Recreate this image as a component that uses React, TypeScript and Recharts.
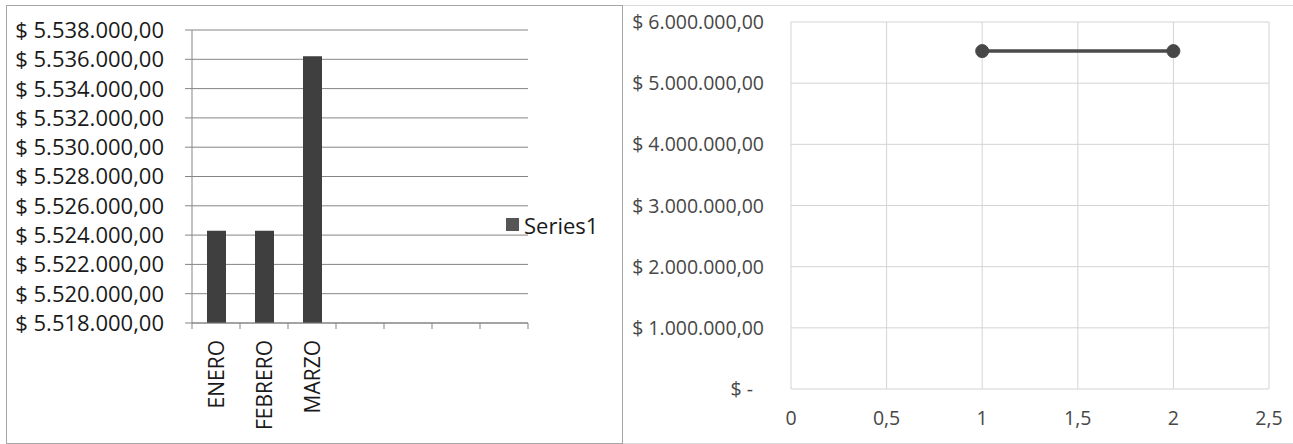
import React from 'react';
import { BarChart, Bar, XAxis, YAxis, CartesianGrid, Legend, LineChart, Line } from 'recharts';

// ---- data ----
const months = ['ENERO', 'FEBRERO', 'MARZO', '', '', '', ''];
const series1 = [5524300, 5524300, 5536200, null, null, null, null];
const barYTicks = [5518000, 5520000, 5522000, 5524000, 5526000, 5528000, 5530000, 5532000, 5534000, 5536000, 5538000];
const scatterX = [1, 2];
const scatterY = [5524300, 5524300];
const lineYTicks = [0, 1000000, 2000000, 3000000, 4000000, 5000000, 6000000];
const lineXTicks = [0, 0.5, 1, 1.5, 2, 2.5];

const barData = months.map((m, i) => ({ cat: i, Series1: series1[i] }));
const lineData = scatterX.map((x, i) => ({ x, y: scatterY[i] }));

const FONT = '"Open Sans", sans-serif';
const AXIS_GRAY = '#858585';
const BAR_COLOR = '#3f3f3f';

function fmtMoney(v: number) {
  const s = Math.round(v).toString().replace(/\B(?=(\d{3})+(?!\d))/g, '.');
  return `$ ${s},00`;
}
function fmtDec(v: number) {
  return String(v).replace('.', ',');
}

const MonthTick = (props: any) => {
  const { x, y, payload, index } = props;
  const half = payload && typeof payload.offset === 'number' ? payload.offset : 24;
  const label = months[payload.value] ?? '';
  const ty = y + 11;
  return (
    <g>
      <line x1={x - half} x2={x - half} y1={y - 6} y2={y} stroke={AXIS_GRAY} strokeWidth={1} />
      {index === months.length - 1 && (
        <line x1={x + half} x2={x + half} y1={y - 6} y2={y} stroke={AXIS_GRAY} strokeWidth={1} />
      )}
      {label && (
        <text
          x={x}
          y={ty}
          transform={`rotate(-90, ${x}, ${ty})`}
          textAnchor="end"
          dy="0.36em"
          fill="#1a1a1a"
          fontSize={21}
          fontFamily={FONT}
        >
          {label}
        </text>
      )}
    </g>
  );
};

const LeftMoneyTick = (props: any) => {
  const { x, y, payload } = props;
  return (
    <text x={x} y={y} dy="0.36em" textAnchor="end" fill="#1a1a1a" fontSize={22} fontFamily={FONT}>
      {fmtMoney(payload.value)}
    </text>
  );
};

const RightMoneyTick = (props: any) => {
  const { x, y, payload } = props;
  const v = payload.value;
  return (
    <text x={x} y={y} dx={v === 0 ? -11 : 0} dy="0.36em" textAnchor="end" fill="#474747" fontSize={19.5} fontFamily={FONT}>
      {v === 0 ? '$ -' : fmtMoney(v)}
    </text>
  );
};

const LegendContent = () => (
  <div style={{ display: 'flex', alignItems: 'center', lineHeight: '28px', fontFamily: FONT, fontSize: 22, color: '#1a1a1a', whiteSpace: 'nowrap' }}>
    <span style={{ display: 'inline-block', width: 13, height: 13, background: '#555', marginRight: 5 }} />
    <span>Series1</span>
  </div>
);

export default function App() {
  return (
    <div style={{ position: 'absolute', left: 0, top: 0, width: 1293, height: 444, background: '#fff', overflow: 'hidden' }}>
      {/* left chart */}
      <div style={{ position: 'absolute', left: 6, top: 5 }}>
        <BarChart width={616} height={438} data={barData} margin={{ top: 25, right: 94, bottom: 0, left: 0 }} barSize={19}>
          <CartesianGrid vertical={false} stroke={AXIS_GRAY} strokeWidth={1} />
          <XAxis
            dataKey="cat"
            type="category"
            height={120}
            interval={0}
            tickLine={false}
            tickSize={6}
            tickMargin={0}
            axisLine={{ stroke: AXIS_GRAY }}
            tick={<MonthTick />}
          />
          <YAxis
            width={186}
            domain={[5518000, 5538000]}
            ticks={barYTicks}
            interval={0}
            allowDataOverflow
            tickSize={7}
            tickMargin={21}
            tickLine={{ stroke: AXIS_GRAY }}
            axisLine={{ stroke: AXIS_GRAY }}
            tick={<LeftMoneyTick />}
          />
          <Legend
            layout="horizontal"
            verticalAlign="middle"
            align="center"
            content={<LegendContent />}
            wrapperStyle={{ left: 500, top: 205.5, width: 'auto', height: 'auto' }}
          />
          <Bar dataKey="Series1" fill={BAR_COLOR} isAnimationActive={false} />
        </BarChart>
      </div>

      {/* right chart */}
      <div style={{ position: 'absolute', left: 622, top: 5 }}>
        <LineChart width={671} height={438} data={lineData} margin={{ top: 17, right: 24, bottom: 0, left: 0 }}>
          <CartesianGrid stroke="#d4d4d4" strokeWidth={1} />
          <XAxis
            dataKey="x"
            type="number"
            domain={[0, 2.5]}
            ticks={lineXTicks}
            interval={0}
            height={54}
            tickLine={false}
            axisLine={false}
            tickSize={6}
            tickMargin={16}
            tickFormatter={fmtDec}
            tick={{ fill: '#474747', fontSize: 19.5, fontFamily: FONT }}
          />
          <YAxis
            width={169}
            domain={[0, 6000000]}
            ticks={lineYTicks}
            interval={0}
            tickLine={false}
            axisLine={false}
            tickSize={6}
            tickMargin={21}
            tick={<RightMoneyTick />}
          />
          <Line
            type="linear"
            dataKey="y"
            stroke="#4a4a4a"
            strokeWidth={3.5}
            dot={{ r: 6.5, fill: '#474747', stroke: '#474747', strokeWidth: 1 }}
            isAnimationActive={false}
          />
        </LineChart>
      </div>

      {/* chart frames */}
      <div style={{ position: 'absolute', left: 622, top: 5, width: 680, height: 437, border: '1px solid #dadada', pointerEvents: 'none' }} />
      <div style={{ position: 'absolute', left: 6, top: 5, width: 615, height: 437, border: '1px solid #a6a6a6', pointerEvents: 'none' }} />
    </div>
  );
}
